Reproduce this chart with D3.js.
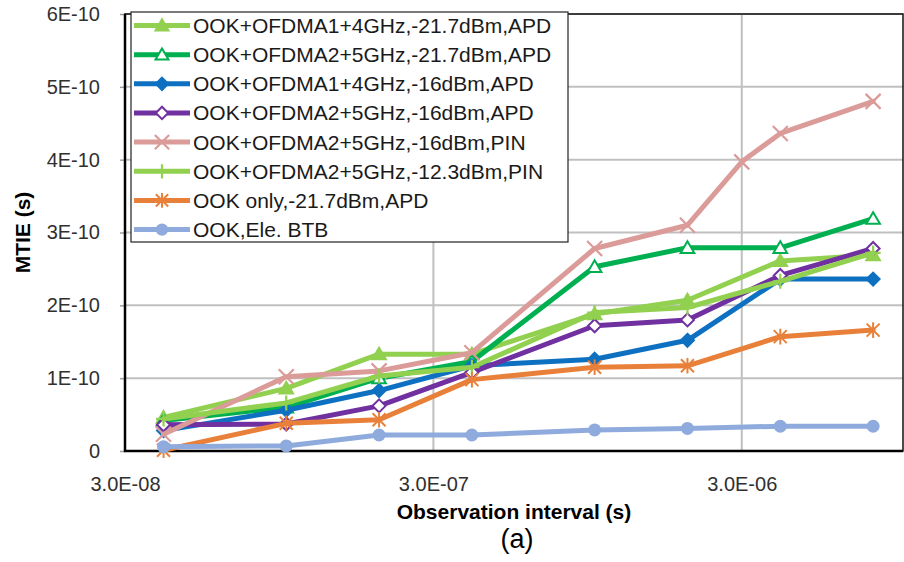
<!DOCTYPE html>
<html>
<head>
<meta charset="utf-8">
<script src="https://cdn.jsdelivr.net/npm/d3@7"></script>
<style>
  html, body { margin: 0; padding: 0; background: #fff; }
  svg { display: block; }
  text { font-family: "Liberation Sans", Arial, sans-serif; }
</style>
</head>
<body>
<svg id="chart" width="904" height="562"></svg>
<script>
// Observation intervals (s)
const intervals      = [4e-8, 1e-7, 2e-7, 4e-7, 1e-6, 2e-6, 4e-6, 8e-6];
const intervalsPin16 = [4e-8, 1e-7, 2e-7, 4e-7, 1e-6, 2e-6, 3e-6, 4e-6, 8e-6];

// MTIE (s) per configuration
const ofdma1Apd217 = [0.46e-10, 0.86e-10, 1.33e-10, 1.33e-10, 1.88e-10, 2.07e-10, 2.61e-10, 2.69e-10];
const ofdma2Apd217 = [0.42e-10, 0.60e-10, 1.00e-10, 1.23e-10, 2.53e-10, 2.79e-10, 2.79e-10, 3.19e-10];
const ofdma1Apd16  = [0.28e-10, 0.56e-10, 0.83e-10, 1.17e-10, 1.26e-10, 1.52e-10, 2.36e-10, 2.36e-10];
const ofdma2Apd16  = [0.36e-10, 0.37e-10, 0.62e-10, 1.08e-10, 1.72e-10, 1.80e-10, 2.41e-10, 2.78e-10];
const ofdma2Pin16  = [0.23e-10, 1.02e-10, 1.10e-10, 1.35e-10, 2.78e-10, 3.10e-10, 3.97e-10, 4.36e-10, 4.80e-10];
const ofdma2Pin123 = [0.44e-10, 0.66e-10, 1.03e-10, 1.15e-10, 1.90e-10, 1.97e-10, 2.33e-10, 2.72e-10];
const ookOnlyApd   = [0.01e-10, 0.38e-10, 0.43e-10, 0.98e-10, 1.15e-10, 1.17e-10, 1.57e-10, 1.66e-10];
const ookEleBtb    = [0.06e-10, 0.07e-10, 0.22e-10, 0.22e-10, 0.29e-10, 0.31e-10, 0.34e-10, 0.34e-10];

const seriesNames = [
  "OOK+OFDMA1+4GHz,-21.7dBm,APD",
  "OOK+OFDMA2+5GHz,-21.7dBm,APD",
  "OOK+OFDMA1+4GHz,-16dBm,APD",
  "OOK+OFDMA2+5GHz,-16dBm,APD",
  "OOK+OFDMA2+5GHz,-16dBm,PIN",
  "OOK+OFDMA2+5GHz,-12.3dBm,PIN",
  "OOK only,-21.7dBm,APD",
  "OOK,Ele. BTB"
];

// Axis ticks
const xTicks      = [3e-8, 3e-7, 3e-6];
const xTickLabels = ["3.0E-08", "3.0E-07", "3.0E-06"];
const yTicks      = [0, 1e-10, 2e-10, 3e-10, 4e-10, 5e-10, 6e-10];
const yTickLabels = ["0", "1E-10", "2E-10", "3E-10", "4E-10", "5E-10", "6E-10"];

// Series styling (line colour and marker kind)
const styles = [
  { color: "#92D050", marker: "triangle", fill: "#92D050" },
  { color: "#00B050", marker: "triangle", fill: "#ffffff" },
  { color: "#0E70C0", marker: "diamond",  fill: "#0E70C0" },
  { color: "#7030A0", marker: "diamond",  fill: "#ffffff" },
  { color: "#DB9B99", marker: "times",    fill: "none" },
  { color: "#92D050", marker: "plus",     fill: "none" },
  { color: "#E9803A", marker: "asterisk", fill: "none" },
  { color: "#8FAADC", marker: "circle",   fill: "#8FAADC" }
];

const seriesValues = [ofdma1Apd217, ofdma2Apd217, ofdma1Apd16, ofdma2Apd16,
                      ofdma2Pin16, ofdma2Pin123, ookOnlyApd, ookEleBtb];
const seriesX = [intervals, intervals, intervals, intervals,
                 intervalsPin16, intervals, intervals, intervals];

const series = seriesNames.map((name, i) => ({
  name,
  ...styles[i],
  points: seriesValues[i].map((v, j) => ({ x: seriesX[i][j], y: v }))
}));

// Layout
const plot = { left: 125, right: 903, top: 14, bottom: 451 };

const x = d3.scaleLog().domain([3e-8, 1e-5]).range([plot.left, plot.right]);
const y = d3.scaleLinear().domain([0, 6e-10]).range([plot.bottom, plot.top]);

const svg = d3.select("#chart");

// Gridlines
svg.append("g").selectAll("line.hgrid")
  .data(yTicks.filter(d => d > 0))
  .join("line")
  .attr("x1", plot.left).attr("x2", plot.right)
  .attr("y1", d => y(d)).attr("y2", d => y(d))
  .attr("stroke", "#C0C0C0").attr("stroke-width", 2);

svg.append("g").selectAll("line.vgrid")
  .data(xTicks.slice(1))
  .join("line")
  .attr("x1", d => x(d)).attr("x2", d => x(d))
  .attr("y1", plot.top).attr("y2", plot.bottom)
  .attr("stroke", "#C0C0C0").attr("stroke-width", 2);

// Axes
const yAxis = d3.axisLeft(y)
  .tickValues(yTicks)
  .tickFormat((d, i) => yTickLabels[i])
  .tickSize(5)
  .tickPadding(20);
const gy = svg.append("g").attr("transform", `translate(${plot.left},0)`).call(yAxis);
gy.select(".domain").remove();
gy.selectAll(".tick line").attr("stroke", "#A0A0A0").attr("stroke-width", 1.5);
gy.selectAll(".tick text")
  .attr("font-size", 20).attr("fill", "#303030")
  .attr("font-family", "'Liberation Sans', Arial, sans-serif");

const xAxis = d3.axisBottom(x)
  .tickValues(xTicks)
  .tickFormat((d, i) => xTickLabels[i])
  .tickSize(0)
  .tickPadding(26);
const gx = svg.append("g").attr("transform", `translate(0,${plot.bottom})`).call(xAxis);
gx.select(".domain").remove();
gx.selectAll(".tick text")
  .attr("font-size", 20).attr("fill", "#303030")
  .attr("font-family", "'Liberation Sans', Arial, sans-serif");

// Plot border
svg.append("rect")
  .attr("x", plot.left).attr("y", plot.top)
  .attr("width", plot.right - plot.left).attr("height", plot.bottom - plot.top)
  .attr("fill", "none").attr("stroke", "#111").attr("stroke-width", 1.5);
svg.append("line")
  .attr("x1", plot.left).attr("x2", plot.left)
  .attr("y1", plot.top).attr("y2", plot.bottom + 1)
  .attr("stroke", "#000").attr("stroke-width", 2.5);
svg.append("line")
  .attr("x1", plot.left - 1).attr("x2", plot.right)
  .attr("y1", plot.bottom).attr("y2", plot.bottom)
  .attr("stroke", "#000").attr("stroke-width", 2.5);

// Marker shapes
function markerPath(kind, s) {
  switch (kind) {
    case "triangle":
      return `M0,${-s} L${s * 1.05},${s * 0.8} L${-s * 1.05},${s * 0.8} Z`;
    case "diamond":
      return `M0,${-s} L${s},0 L0,${s} L${-s},0 Z`;
    case "times":
      return `M${-s},${-s} L${s},${s} M${-s},${s} L${s},${-s}`;
    case "plus":
      return `M${-s},0 H${s} M0,${-s} V${s}`;
    case "asterisk":
      return `M${-s},${-s} L${s},${s} M${-s},${s} L${s},${-s} M0,${-s * 1.2} V${s * 1.2}`;
    default:
      return "";
  }
}

function drawMarker(g, d, cx, cy, scale) {
  const k = scale || 1;
  if (d.marker === "circle") {
    g.append("circle").attr("cx", cx).attr("cy", cy).attr("r", 6.5 * k)
      .attr("fill", d.fill);
    return;
  }
  const sizes = { triangle: 6.5, diamond: 6.5, times: 7.5, plus: 7.5, asterisk: 6.5 };
  const widths = { triangle: 2, diamond: 2, times: 2.2, plus: 2.2, asterisk: 2 };
  g.append("path")
    .attr("transform", `translate(${cx},${cy})`)
    .attr("d", markerPath(d.marker, sizes[d.marker] * k))
    .attr("fill", d.fill)
    .attr("stroke", d.color)
    .attr("stroke-width", widths[d.marker])
    .attr("stroke-linejoin", "miter");
}

// Series lines and markers
const line = d3.line().x(p => x(p.x)).y(p => y(p.y));

series.forEach(s => {
  const g = svg.append("g");
  g.append("path")
    .attr("d", line(s.points))
    .attr("fill", "none")
    .attr("stroke", s.color)
    .attr("stroke-width", 5)
    .attr("stroke-linejoin", "round")
    .attr("stroke-linecap", "round");
  s.points.forEach(p => drawMarker(g, s, x(p.x), y(p.y)));
});

// Legend
const legend = { x: 131, y: 12, w: 437, h: 230, row0: 25.5, rowStep: 29.15 };
const lg = svg.append("g");
lg.append("rect")
  .attr("x", legend.x).attr("y", legend.y)
  .attr("width", legend.w).attr("height", legend.h)
  .attr("fill", "#fff").attr("stroke", "#222").attr("stroke-width", 1.2);

series.forEach((s, i) => {
  const cy = legend.row0 + i * legend.rowStep;
  lg.append("line")
    .attr("x1", legend.x + 3).attr("x2", legend.x + 59)
    .attr("y1", cy).attr("y2", cy)
    .attr("stroke", s.color).attr("stroke-width", 5);
  drawMarker(lg, s, legend.x + 31, cy, 0.95);
  lg.append("text")
    .attr("x", legend.x + 62).attr("y", cy + 7.5)
    .attr("font-size", 21).attr("fill", "#1a1a1a")
    .text(s.name);
});

// Axis titles
svg.append("text")
  .attr("transform", `translate(30,${(plot.top + plot.bottom) / 2}) rotate(-90)`)
  .attr("text-anchor", "middle")
  .attr("font-size", 21).attr("font-weight", "bold").attr("fill", "#000")
  .text("MTIE (s)");

svg.append("text")
  .attr("x", (plot.left + plot.right) / 2).attr("y", 519)
  .attr("text-anchor", "middle")
  .attr("font-size", 21).attr("font-weight", "bold").attr("fill", "#000")
  .text("Observation interval (s)");

svg.append("text")
  .attr("x", 517).attr("y", 548)
  .attr("text-anchor", "middle")
  .attr("font-size", 27).attr("fill", "#000")
  .text("(a)");
</script>
</body>
</html>
